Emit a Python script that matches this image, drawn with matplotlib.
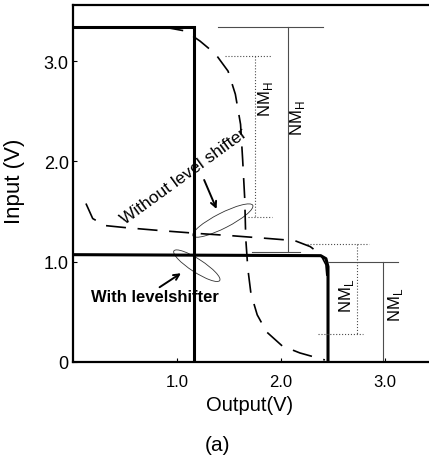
import matplotlib
matplotlib.use("Agg")
import matplotlib.pyplot as plt
from matplotlib.patches import Ellipse

plt.rcParams['font.family'] = ['Liberation Sans', 'DejaVu Sans']
plt.rcParams['mathtext.fontset'] = 'custom'
plt.rcParams['mathtext.rm'] = 'Liberation Sans'

# with level shifter (solid), two transfer curves
with_a_out = [0.0, 1.16, 1.16]
with_a_in = [3.34, 3.34, 0.0]
with_b_out = [0.0, 2.38, 2.43, 2.45, 2.45]
with_b_in = [1.07, 1.06, 1.03, 0.95, 0.0]

# without level shifter (dashed)
wo_a_out = [0.87, 1.08, 1.22, 1.37, 1.49, 1.56, 1.61, 1.63, 1.65, 1.66, 1.68, 1.71, 1.77, 1.86, 2.01, 2.18, 2.42]
wo_a_in = [3.34, 3.30, 3.20, 3.07, 2.90, 2.67, 2.37, 2.02, 1.63, 1.23, 0.93, 0.68, 0.47, 0.30, 0.16, 0.09, 0.02]
wo_b_out = [0.125, 0.19, 0.31, 0.50, 0.84, 1.22, 1.51, 1.89, 2.13, 2.28, 2.38, 2.43, 2.45, 2.45]
wo_b_in = [1.58, 1.43, 1.36, 1.34, 1.31, 1.28, 1.26, 1.23, 1.21, 1.15, 1.07, 0.97, 0.73, 0.0]

xticks = [1.0, 2.0, 3.0]
xticklabels = ['1.0', '2.0', '3.0']
yticks = [0, 1.0, 2.0, 3.0]
yticklabels = ['0', '1.0', '2.0', '3.0']

# noise margin markers: (x, y_top, y_bottom, top tick x-range, bottom tick x-range, label pos)
nmh_inner = (1.75, 3.05, 1.45, (1.46, 1.91), (1.68, 1.91), (1.85, 2.63))
nmh_outer = (2.07, 3.34, 1.10, (1.39, 2.40), (1.72, 2.18), (2.16, 2.44))
nml_inner = (2.73, 1.18, 0.28, (2.25, 2.84), (2.35, 2.79), (2.63, 0.67))
nml_outer = (2.98, 1.00, 0.0, (2.45, 3.12), None, (3.10, 0.58))

fig = plt.figure(figsize=(4.29, 4.56), dpi=100)
ax = fig.add_axes([0.170, 0.204, 0.830, 0.783])

ax.plot(with_a_out, with_a_in, color='black', lw=2.2, solid_joinstyle='miter')
ax.plot(with_b_out, with_b_in, color='black', lw=2.2)
ax.plot(wo_a_out, wo_a_in, color='black', lw=1.2, dashes=(12, 7))
ax.plot(wo_b_out, wo_b_in, color='black', lw=1.2, dashes=(12, 7))


def margin(m, label, dotted):
    x, yt, yb, tt, bt, lp = m
    ls = ':' if dotted else '-'
    ax.plot([x, x], [yt, yb], color='0.3', lw=0.8, ls=ls)
    ax.plot(tt, [yt, yt], color='0.3', lw=0.8, ls=ls)
    if bt is not None:
        ax.plot(bt, [yb, yb], color='0.3', lw=0.8, ls=ls)
    ax.text(lp[0], lp[1], label, rotation=90, ha='center', va='center', fontsize=12)


margin(nmh_inner, r'NM$_{\rm H}$', True)
margin(nmh_outer, r'NM$_{\rm H}$', False)
margin(nml_inner, r'NM$_{\rm L}$', True)
margin(nml_outer, r'NM$_{\rm L}$', False)

# ellipses + arrows
ax.add_patch(Ellipse((1.44, 1.41), 0.65, 0.15, angle=28, fill=False, lw=0.6, ec='0.2'))
ax.add_patch(Ellipse((1.19, 0.96), 0.53, 0.13, angle=-34, fill=False, lw=0.6, ec='0.2'))
ax.annotate('', xy=(1.39, 1.50), xytext=(1.25, 1.84),
            arrowprops=dict(arrowstyle='->', lw=1.4, color='black'))
ax.annotate('', xy=(1.06, 0.90), xytext=(0.81, 0.73),
            arrowprops=dict(arrowstyle='->', lw=1.4, color='black'))
ax.text(1.06, 1.86, 'Without level shifter', rotation=36, ha='center', va='center', fontsize=12.5)
ax.text(0.79, 0.65, 'With levelshifter', ha='center', va='center', fontsize=12, fontweight='bold')

ax.set_xlim(0, 3.42)
ax.set_ylim(0, 3.56)
ax.set_xticks(xticks)
ax.set_xticklabels(xticklabels)
ax.set_yticks(yticks)
ax.set_yticklabels(yticklabels)
ax.tick_params(axis='x', direction='in', length=3, width=0.8, labelsize=12, pad=9)
ax.tick_params(axis='y', direction='in', length=3, width=0.8, labelsize=13, pad=3)
for s in ['left', 'bottom', 'top']:
    ax.spines[s].set_linewidth(1.6)
ax.spines['right'].set_visible(False)

ax.set_xlabel('Output(V)', fontsize=14.5)
ax.xaxis.set_label_coords(0.497, -0.093)
ax.set_ylabel('Input (V)', fontsize=16)
ax.yaxis.set_label_coords(-0.135, 0.51)

fig.text(0.506, 0.024, '(a)', ha='center', va='center', fontsize=15)

fig.savefig('out.png', dpi=100)
